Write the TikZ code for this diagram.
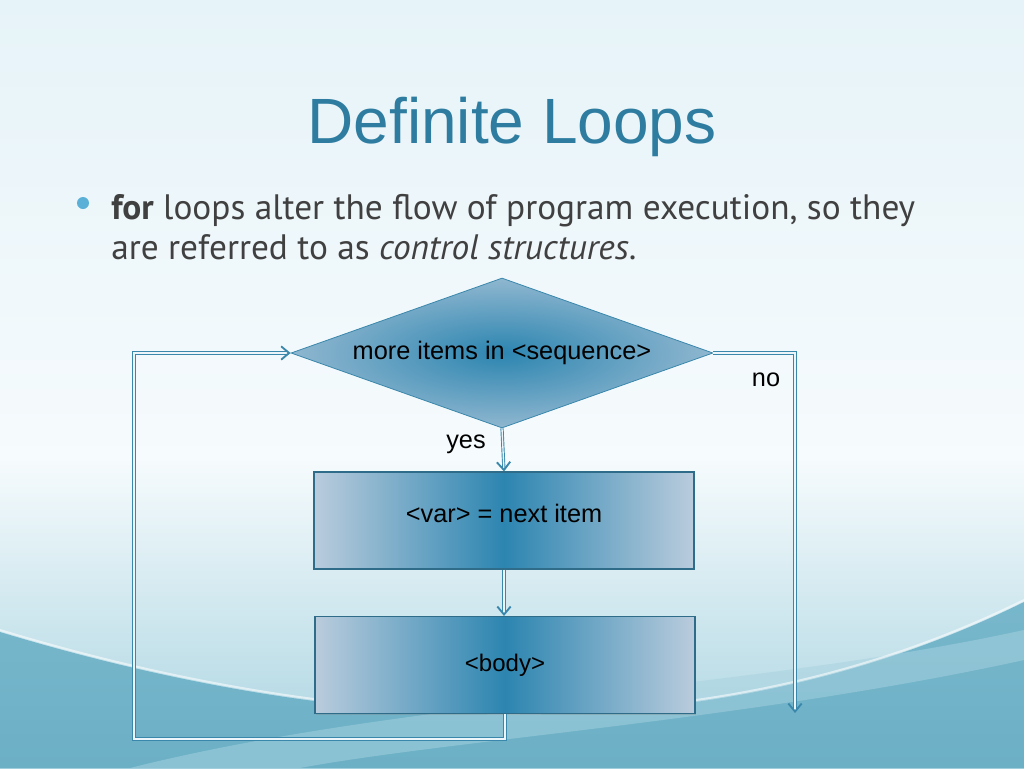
\documentclass[tikz,border=0pt]{standalone}
\usepackage{fontspec}
\setmainfont{Liberation Sans}
\newfontfamily\bulletfont{PT Sans}
\usepackage{tikz}
\usetikzlibrary{shapes.geometric,arrows.meta,shadows,positioning}

\definecolor{titleblue}{RGB}{46,125,161}
\definecolor{bodygray}{RGB}{64,64,64}
\definecolor{dotblue}{RGB}{90,176,214}
\definecolor{flowline}{RGB}{58,135,172}
\definecolor{flowfill}{RGB}{236,246,250}
\definecolor{shapemid}{RGB}{44,133,176}
\definecolor{shapeedge}{RGB}{186,204,221}
\definecolor{bgtop}{RGB}{230,243,248}
\definecolor{bgmid}{RGB}{246,251,253}
\definecolor{wavelight}{RGB}{168,211,224}
\definecolor{wavedark}{RGB}{108,176,198}

\tikzset{
  flow/.style={draw=flowline, line width=0.7pt, double=flowfill, double distance=1pt},
  flowarrow/.style={flow, -{Straight Barb[length=6pt,width=10pt,line width=1.4pt]}},
  decision/.style={diamond, aspect=2.81, draw=flowline, line width=0.6pt, inner color=shapemid, outer color=shapeedge!70!shapemid,
    minimum width=316.5pt, minimum height=112.5pt, inner sep=0pt, font=\fontsize{19}{22}\selectfont},
  process/.style={rectangle, draw=flowline!80!black, line width=0.8pt, left color=shapeedge, right color=shapeedge, middle color=shapemid,
    minimum width=285pt, minimum height=72.75pt, inner sep=0pt, font=\fontsize{19}{22}\selectfont,
    drop shadow={shadow xshift=1pt, shadow yshift=-1pt, opacity=0.3}},
  flowlabel/.style={font=\fontsize{19}{22}\selectfont, inner sep=0.75pt}
}

\begin{document}
\begin{tikzpicture}[x=0.75pt,y=0.75pt,yscale=-1,xscale=1]
  \useasboundingbox (0,0) rectangle (1024,768);

  % Background
  \shade [top color=bgtop, bottom color=bgmid] (0,0) rectangle (1024,460);
  \shade [top color=bgmid, bottom color=wavelight] (0,459) rectangle (1024,768);
  \shade [top color=wavedark!80!wavelight, bottom color=wavedark] (0,632) .. controls (330,732) and (700,762) .. (1024,602) -- (1024,768) -- (0,768) -- cycle;
  \fill [wavelight, opacity=0.5] (130,768) .. controls (400,700) and (750,690) .. (1024,630) -- (1024,660) .. controls (750,720) and (450,740) .. (300,768) -- cycle;
  \draw [white, opacity=0.55, line width=1.5pt] (0,630) .. controls (330,730) and (700,760) .. (1024,600);

  % Title
  \node (title) at (512,143) [anchor=base, text=titleblue, inner sep=0pt, font=\fontsize{48}{58}\selectfont] {Definite Loops};

  % Bullet
  \fill [dotblue] (83,203) circle (6);
  \node (lineA) at (111,219) [anchor=base west, text=bodygray, inner sep=0pt, font=\bulletfont\fontsize{26.5}{32}\selectfont] {\textbf{for} loops alter the flow of program execution, so they};
  \node (lineB) at (111,259) [anchor=base west, text=bodygray, inner sep=0pt, font=\bulletfont\fontsize{26.5}{32}\selectfont] {are referred to as \textit{control structures}.};

  % Flow chart
  \node [decision] (test) at (502,353) {more items in <sequence>};
  \node [process, text depth=11pt] (assign) at (504,520.5) {<var> = next item};
  \node [process, font=\fontsize{18}{22}\selectfont] (body) at (505,665) {<body>};
  \coordinate (loopcorner) at (134,739);
  \coordinate (noturn) at (795,353);
  \coordinate (noend) at (795,713);

  \draw [flowarrow] (test.south) -- (assign.north);
  \draw [flowarrow] (assign.south) -- (assign.south |- body.north);
  \draw [flowarrow] (body.south) |- (loopcorner) |- (test.west);
  \draw [flowarrow] (test.east) -- (noturn) -- (noend);

  % Text Node
  \node [flowlabel] (yes) at (466,444) {yes};
  % Text Node
  \node [flowlabel] (no) at (766,380) {no};
\end{tikzpicture}
\end{document}
